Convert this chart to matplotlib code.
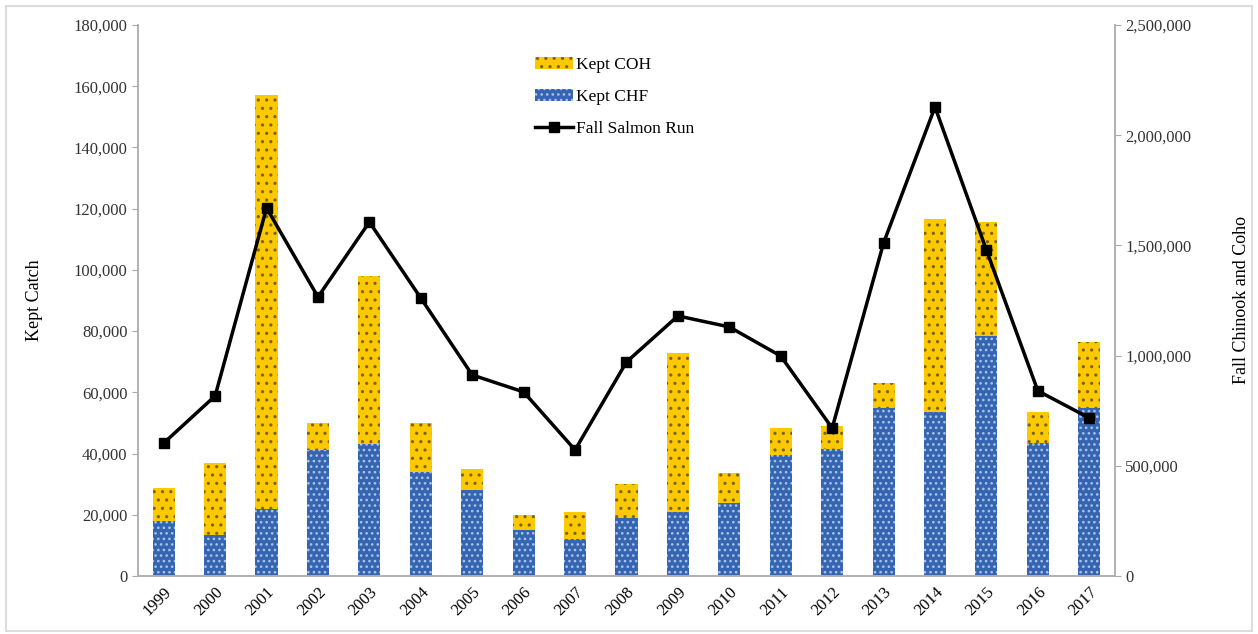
import numpy as np
import matplotlib.pyplot as plt
from matplotlib.ticker import FuncFormatter

plt.rcParams['font.family'] = ['Liberation Serif', 'DejaVu Serif']
plt.rcParams['hatch.linewidth'] = 1.1

years = ["1999", "2000", "2001", "2002", "2003", "2004", "2005", "2006", "2007", "2008",
         "2009", "2010", "2011", "2012", "2013", "2014", "2015", "2016", "2017"]
kept_chf = [18000, 13500, 22000, 41000, 43000, 34000, 28000, 15000, 12000, 19000,
            21000, 24000, 39500, 41500, 55000, 53500, 78500, 43500, 55000]
kept_total = [28700, 37000, 157000, 50000, 98000, 50000, 35000, 20000, 21000, 30000,
              73000, 33500, 48500, 49000, 63000, 116500, 115500, 53500, 76500]
kept_coh = [t - c for t, c in zip(kept_total, kept_chf)]
fall_run = [603000, 817000, 1670000, 1266000, 1606000, 1261000, 912000, 835000, 572000, 971000,
            1180000, 1130000, 998000, 671000, 1511000, 2128000, 1479000, 840000, 717000]

x = np.arange(len(years))
fmt = FuncFormatter(lambda v, p: "{:,.0f}".format(v))

fig = plt.figure(figsize=(12.58, 6.34), dpi=100)
ax = fig.add_axes([0.1097, 0.0915, 0.7766, 0.8691])
ax2 = ax.twinx()

b1 = ax.bar(x, kept_chf, width=0.43, color="#3565B0", edgecolor="#A8C2EA",
            hatch="...", linewidth=0, label="Kept CHF")
b2 = ax.bar(x, kept_coh, width=0.43, bottom=kept_chf, color="#FCC800",
            edgecolor="#7A6414", hatch="..", linewidth=0, label="Kept COH")
l1, = ax2.plot(x, fall_run, color="black", lw=2.5, marker="s", markersize=7.5,
               label="Fall Salmon Run")

ax.set_xlim(-0.5, len(years) - 0.5)
ax.set_ylim(0, 180000)
ax.set_yticks(np.arange(0, 180001, 20000))
ax.yaxis.set_major_formatter(fmt)
ax2.set_ylim(0, 2500000)
ax2.set_yticks(np.arange(0, 2500001, 500000))
ax2.yaxis.set_major_formatter(fmt)

ax.set_xticks(x)
ax.set_xticklabels(years, rotation=45, ha="right", rotation_mode="anchor", fontsize=12)
ax.tick_params(axis="x", length=0, pad=6)
ax.tick_params(axis="y", labelsize=12, colors="#AAAAAA", labelcolor="#333333", length=4)
ax2.tick_params(axis="y", labelsize=12, colors="#AAAAAA", labelcolor="#333333", length=4)

for a in (ax, ax2):
    a.spines["top"].set_visible(False)
    for s in ("left", "right", "bottom"):
        a.spines[s].set_color("#B0B0B0")
        a.spines[s].set_linewidth(1.2)

ax.set_ylabel("Kept Catch", fontsize=13, labelpad=22)
ax2.set_ylabel("Fall Chinook and Coho", fontsize=13, labelpad=30)

ax.legend([b2, b1, l1], ["Kept COH", "Kept CHF", "Fall Salmon Run"],
          loc="upper left", bbox_to_anchor=(0.39, 0.97), frameon=False,
          fontsize=12.5, handlelength=2.2, handletextpad=0.2, labelspacing=0.9)

fig.patches.append(plt.Rectangle((0.005, 0.005), 0.99, 0.985, transform=fig.transFigure,
                                 fill=False, edgecolor="#DDDDDD", lw=1.5))

plt.savefig("out.png", dpi=100)
